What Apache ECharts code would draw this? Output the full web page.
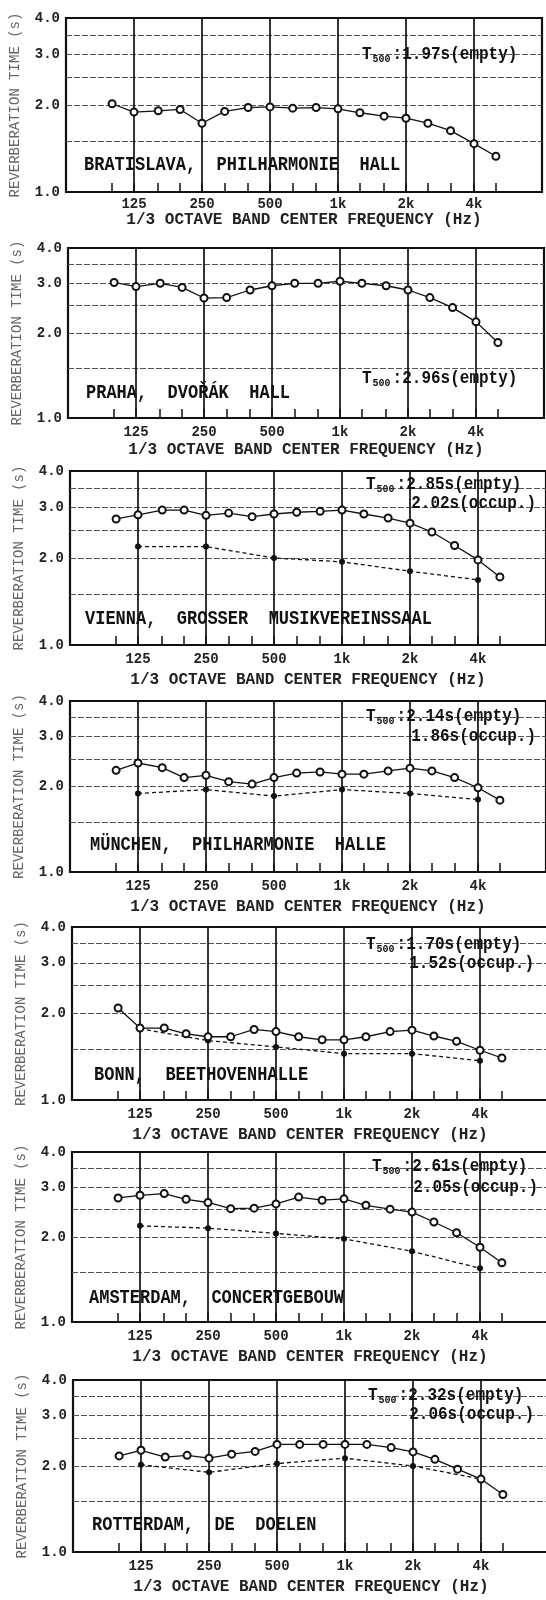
<!DOCTYPE html>
<html>
<head>
<meta charset="utf-8">
<title>Reverberation time of seven concert halls</title>
<script src="https://cdn.jsdelivr.net/npm/echarts@6.0.0/dist/echarts.min.js"></script>
<style>
html, body { margin: 0; padding: 0; background: #fff; }
#chart { width: 546px; height: 1600px; }
</style>
</head>
<body>
<div id="chart"></div>
<script>
var FONT = '"Liberation Mono", "DejaVu Sans Mono", monospace';

// 1/3 octave band center frequencies (Hz)
var freqs = [100, 125, 160, 200, 250, 315, 400, 500, 630, 800, 1000, 1250, 1600, 2000, 2500, 3150, 4000, 5000];
// occupied values only exist at octave bands
var octaveFreqs = [125, 250, 500, 1000, 2000, 4000];
var xTickLabels = ['125', '250', '500', '1k', '2k', '4k'];
var yTickValues = [1.0, 2.0, 3.0, 4.0];
var yGridValues = [1.5, 2.0, 2.5, 3.0, 3.5];

var hallNames = [
    'BRATISLAVA,  PHILHARMONIE  HALL',
    'PRAHA,  DVOŘÁK  HALL',
    'VIENNA,  GROSSER  MUSIKVEREINSSAAL',
    'MÜNCHEN,  PHILHARMONIE  HALLE',
    'BONN,  BEETHOVENHALLE',
    'AMSTERDAM,  CONCERTGEBOUW',
    'ROTTERDAM,  DE  DOELEN'
];
var t500Empty = ['1.97', '2.96', '2.85', '2.14', '1.70', '2.61', '2.32'];
var t500Occup = ['', '', '2.02', '1.86', '1.52', '2.05', '2.06'];

// reverberation time (s), empty hall, per 1/3 octave band
var bratislavaEmpty = [2.02, 1.89, 1.91, 1.93, 1.73, 1.90, 1.96, 1.97, 1.95, 1.96, 1.94, 1.88, 1.83, 1.80, 1.73, 1.63, 1.47, 1.33];
var prahaEmpty = [3.02, 2.92, 3.00, 2.90, 2.66, 2.67, 2.84, 2.94, 3.00, 3.00, 3.05, 3.00, 2.94, 2.84, 2.67, 2.46, 2.19, 1.85];
var viennaEmpty = [2.73, 2.82, 2.93, 2.93, 2.81, 2.86, 2.78, 2.84, 2.88, 2.90, 2.93, 2.84, 2.75, 2.64, 2.46, 2.21, 1.97, 1.72];
var munchenEmpty = [2.28, 2.42, 2.33, 2.15, 2.19, 2.08, 2.04, 2.15, 2.23, 2.25, 2.21, 2.21, 2.27, 2.32, 2.27, 2.15, 1.98, 1.79];
var bonnEmpty = [2.09, 1.78, 1.78, 1.70, 1.66, 1.66, 1.76, 1.73, 1.66, 1.62, 1.62, 1.66, 1.73, 1.75, 1.67, 1.60, 1.49, 1.40];
var amsterdamEmpty = [2.75, 2.81, 2.85, 2.72, 2.65, 2.52, 2.53, 2.62, 2.77, 2.70, 2.73, 2.59, 2.51, 2.45, 2.26, 2.07, 1.84, 1.62];
var rotterdamEmpty = [2.17, 2.27, 2.15, 2.18, 2.13, 2.20, 2.25, 2.38, 2.38, 2.38, 2.38, 2.38, 2.32, 2.24, 2.11, 1.95, 1.80, 1.59];

// reverberation time (s), occupied hall, per octave band
var viennaOccup = [2.19, 2.19, 2.00, 1.94, 1.80, 1.68];
var munchenOccup = [1.89, 1.95, 1.85, 1.95, 1.89, 1.80];
var bonnOccup = [1.77, 1.61, 1.53, 1.45, 1.45, 1.37];
var amsterdamOccup = [2.19, 2.15, 2.06, 1.97, 1.78, 1.55];
var rotterdamOccup = [2.02, 1.90, 2.04, 2.13, 2.00, 1.80];

var emptyData = [bratislavaEmpty, prahaEmpty, viennaEmpty, munchenEmpty, bonnEmpty, amsterdamEmpty, rotterdamEmpty];
var occupData = [null, null, viennaOccup, munchenOccup, bonnOccup, amsterdamOccup, rotterdamOccup];

// layout of the seven panels
var panelLeft = [66, 68, 70, 70, 72, 72, 73];
var panelTop = [18, 248, 471, 701, 927, 1152, 1380];
var panelBottom = [192, 418, 645, 872, 1100, 1322, 1552];
var plotWidth = 476;
var xNameGap = [17, 24, 27, 27, 27, 27, 27];
var xLabelMargin = [5, 7, 7, 7, 7, 7, 7];
var t500Pos = [[362, 55], [362, 379], [366, 485], [366, 717], [366, 945], [372, 1167], [368, 1396]];
var occupPos = [null, null, [536, 504], [536, 737], [534, 964], [538, 1188], [534, 1415]];
var namePos = [[84, 165], [86, 393], [85, 619], [90, 845], [94, 1075], [89, 1298], [92, 1525]];

$ready();

function $ready() {
    var myChart = echarts.init(document.getElementById('chart'), null, {renderer: 'canvas'});
    var grids = [], xAxes = [], yAxes = [], series = [], graphics = [];

    for (var i = 0; i < 7; i++) {
        grids.push({
            left: panelLeft[i],
            top: panelTop[i],
            width: plotWidth,
            height: panelBottom[i] - panelTop[i],
            show: true,
            borderColor: '#111',
            borderWidth: 2.2,
            containLabel: false,
            outerBoundsMode: 'none'
        });

        xAxes.push({
            type: 'log',
            logBase: 2,
            gridIndex: i,
            min: 62.5,
            max: 8000,
            name: '1/3 OCTAVE BAND CENTER FREQUENCY (Hz)',
            nameLocation: 'middle',
            nameGap: xNameGap[i],
            nameTextStyle: {fontFamily: FONT, fontSize: 16, fontWeight: 'bold', color: '#222'},
            axisLine: {show: false},
            axisTick: {
                show: true,
                inside: true,
                length: 9,
                customValues: freqs,
                lineStyle: {color: '#111', width: 1.5}
            },
            axisLabel: {
                customValues: octaveFreqs,
                margin: xLabelMargin[i],
                fontFamily: FONT,
                fontSize: 14,
                fontWeight: 'bold',
                color: '#222',
                formatter: formatFreq
            },
            splitLine: {show: false}
        });

        yAxes.push({
            type: 'log',
            logBase: 2,
            gridIndex: i,
            min: 1,
            max: 4,
            name: 'REVERBERATION TIME (s)',
            nameLocation: 'middle',
            nameRotate: 90,
            nameGap: 44,
            nameTextStyle: {fontFamily: FONT, fontSize: 14, color: '#666'},
            axisLine: {show: false},
            axisTick: {show: false},
            splitLine: {show: false},
            axisLabel: {
                customValues: yTickValues,
                showMinLabel: true,
                showMaxLabel: true,
                margin: 6,
                fontFamily: FONT,
                fontSize: 14,
                fontWeight: 'bold',
                color: '#222',
                formatter: function (v) { return Number(v).toFixed(1); }
            }
        });

        // dashed level lines and solid octave lines
        var refLines = [];
        yGridValues.forEach(function (v) {
            refLines.push({yAxis: v, lineStyle: {type: [6, 2], color: '#555', width: 1}});
        });
        octaveFreqs.forEach(function (f) {
            refLines.push({xAxis: f, lineStyle: {type: 'solid', color: '#111', width: 1.7}});
        });

        series.push({
            name: 'empty',
            type: 'line',
            xAxisIndex: i,
            yAxisIndex: i,
            data: freqs.map(function (f, k) { return [f, emptyData[i][k]]; }),
            symbol: 'emptyCircle',
            symbolSize: 7,
            lineStyle: {color: '#111', width: 1.3},
            itemStyle: {color: '#111', borderWidth: 1.2},
            animation: false,
            z: 4,
            markLine: {
                z: 1,
                silent: true,
                symbol: ['none', 'none'],
                label: {show: false},
                animation: false,
                data: refLines
            }
        });

        if (occupData[i]) {
            series.push({
                name: 'occupied',
                type: 'line',
                xAxisIndex: i,
                yAxisIndex: i,
                data: octaveFreqs.map(function (f, k) { return [f, occupData[i][k]]; }),
                symbol: 'circle',
                symbolSize: 6,
                lineStyle: {color: '#111', width: 1.3, type: [4, 3]},
                itemStyle: {color: '#111'},
                animation: false,
                z: 3
            });
        }

        // T500 note
        graphics.push({
            type: 'text',
            x: t500Pos[i][0],
            y: t500Pos[i][1],
            scaleY: 1.1,
            silent: true,
            z: 10,
            style: {
                text: '{t|T}{s|500}{t|:' + t500Empty[i] + 's(empty)}',
                align: 'left',
                verticalAlign: 'middle',
                rich: {
                    t: {fontFamily: FONT, fontSize: 16, fontWeight: 'bold', fill: '#111', lineHeight: 18},
                    s: {fontFamily: FONT, fontSize: 10, fontWeight: 'bold', fill: '#111', verticalAlign: 'bottom', padding: [0, 2, 0, 1]}
                }
            }
        });
        if (occupPos[i]) {
            graphics.push({
                type: 'text',
                x: occupPos[i][0],
                y: occupPos[i][1],
                scaleY: 1.1,
                silent: true,
                z: 10,
                style: {
                    text: t500Occup[i] + 's(occup.)',
                    align: 'right',
                    verticalAlign: 'middle',
                    fontFamily: FONT,
                    fontSize: 16,
                    fontWeight: 'bold',
                    fill: '#111'
                }
            });
        }

        // hall name
        graphics.push({
            type: 'text',
            x: namePos[i][0],
            y: namePos[i][1],
            scaleY: 1.2,
            silent: true,
            z: 10,
            style: {
                text: hallNames[i],
                align: 'left',
                verticalAlign: 'middle',
                fontFamily: FONT,
                fontSize: 17,
                fontWeight: 'bold',
                fill: '#111'
            }
        });
    }

    var option = {
        backgroundColor: '#fff',
        animation: false,
        grid: grids,
        xAxis: xAxes,
        yAxis: yAxes,
        series: series,
        graphic: graphics
    };
    myChart.setOption(option);
}

// 125 / 250 / 500 / 1k / 2k / 4k
function formatFreq(v) {
    var best = 0;
    for (var k = 1; k < octaveFreqs.length; k++) {
        if (Math.abs(Math.log(v / octaveFreqs[k])) < Math.abs(Math.log(v / octaveFreqs[best]))) {
            best = k;
        }
    }
    return xTickLabels[best];
}
</script>
</body>
</html>
